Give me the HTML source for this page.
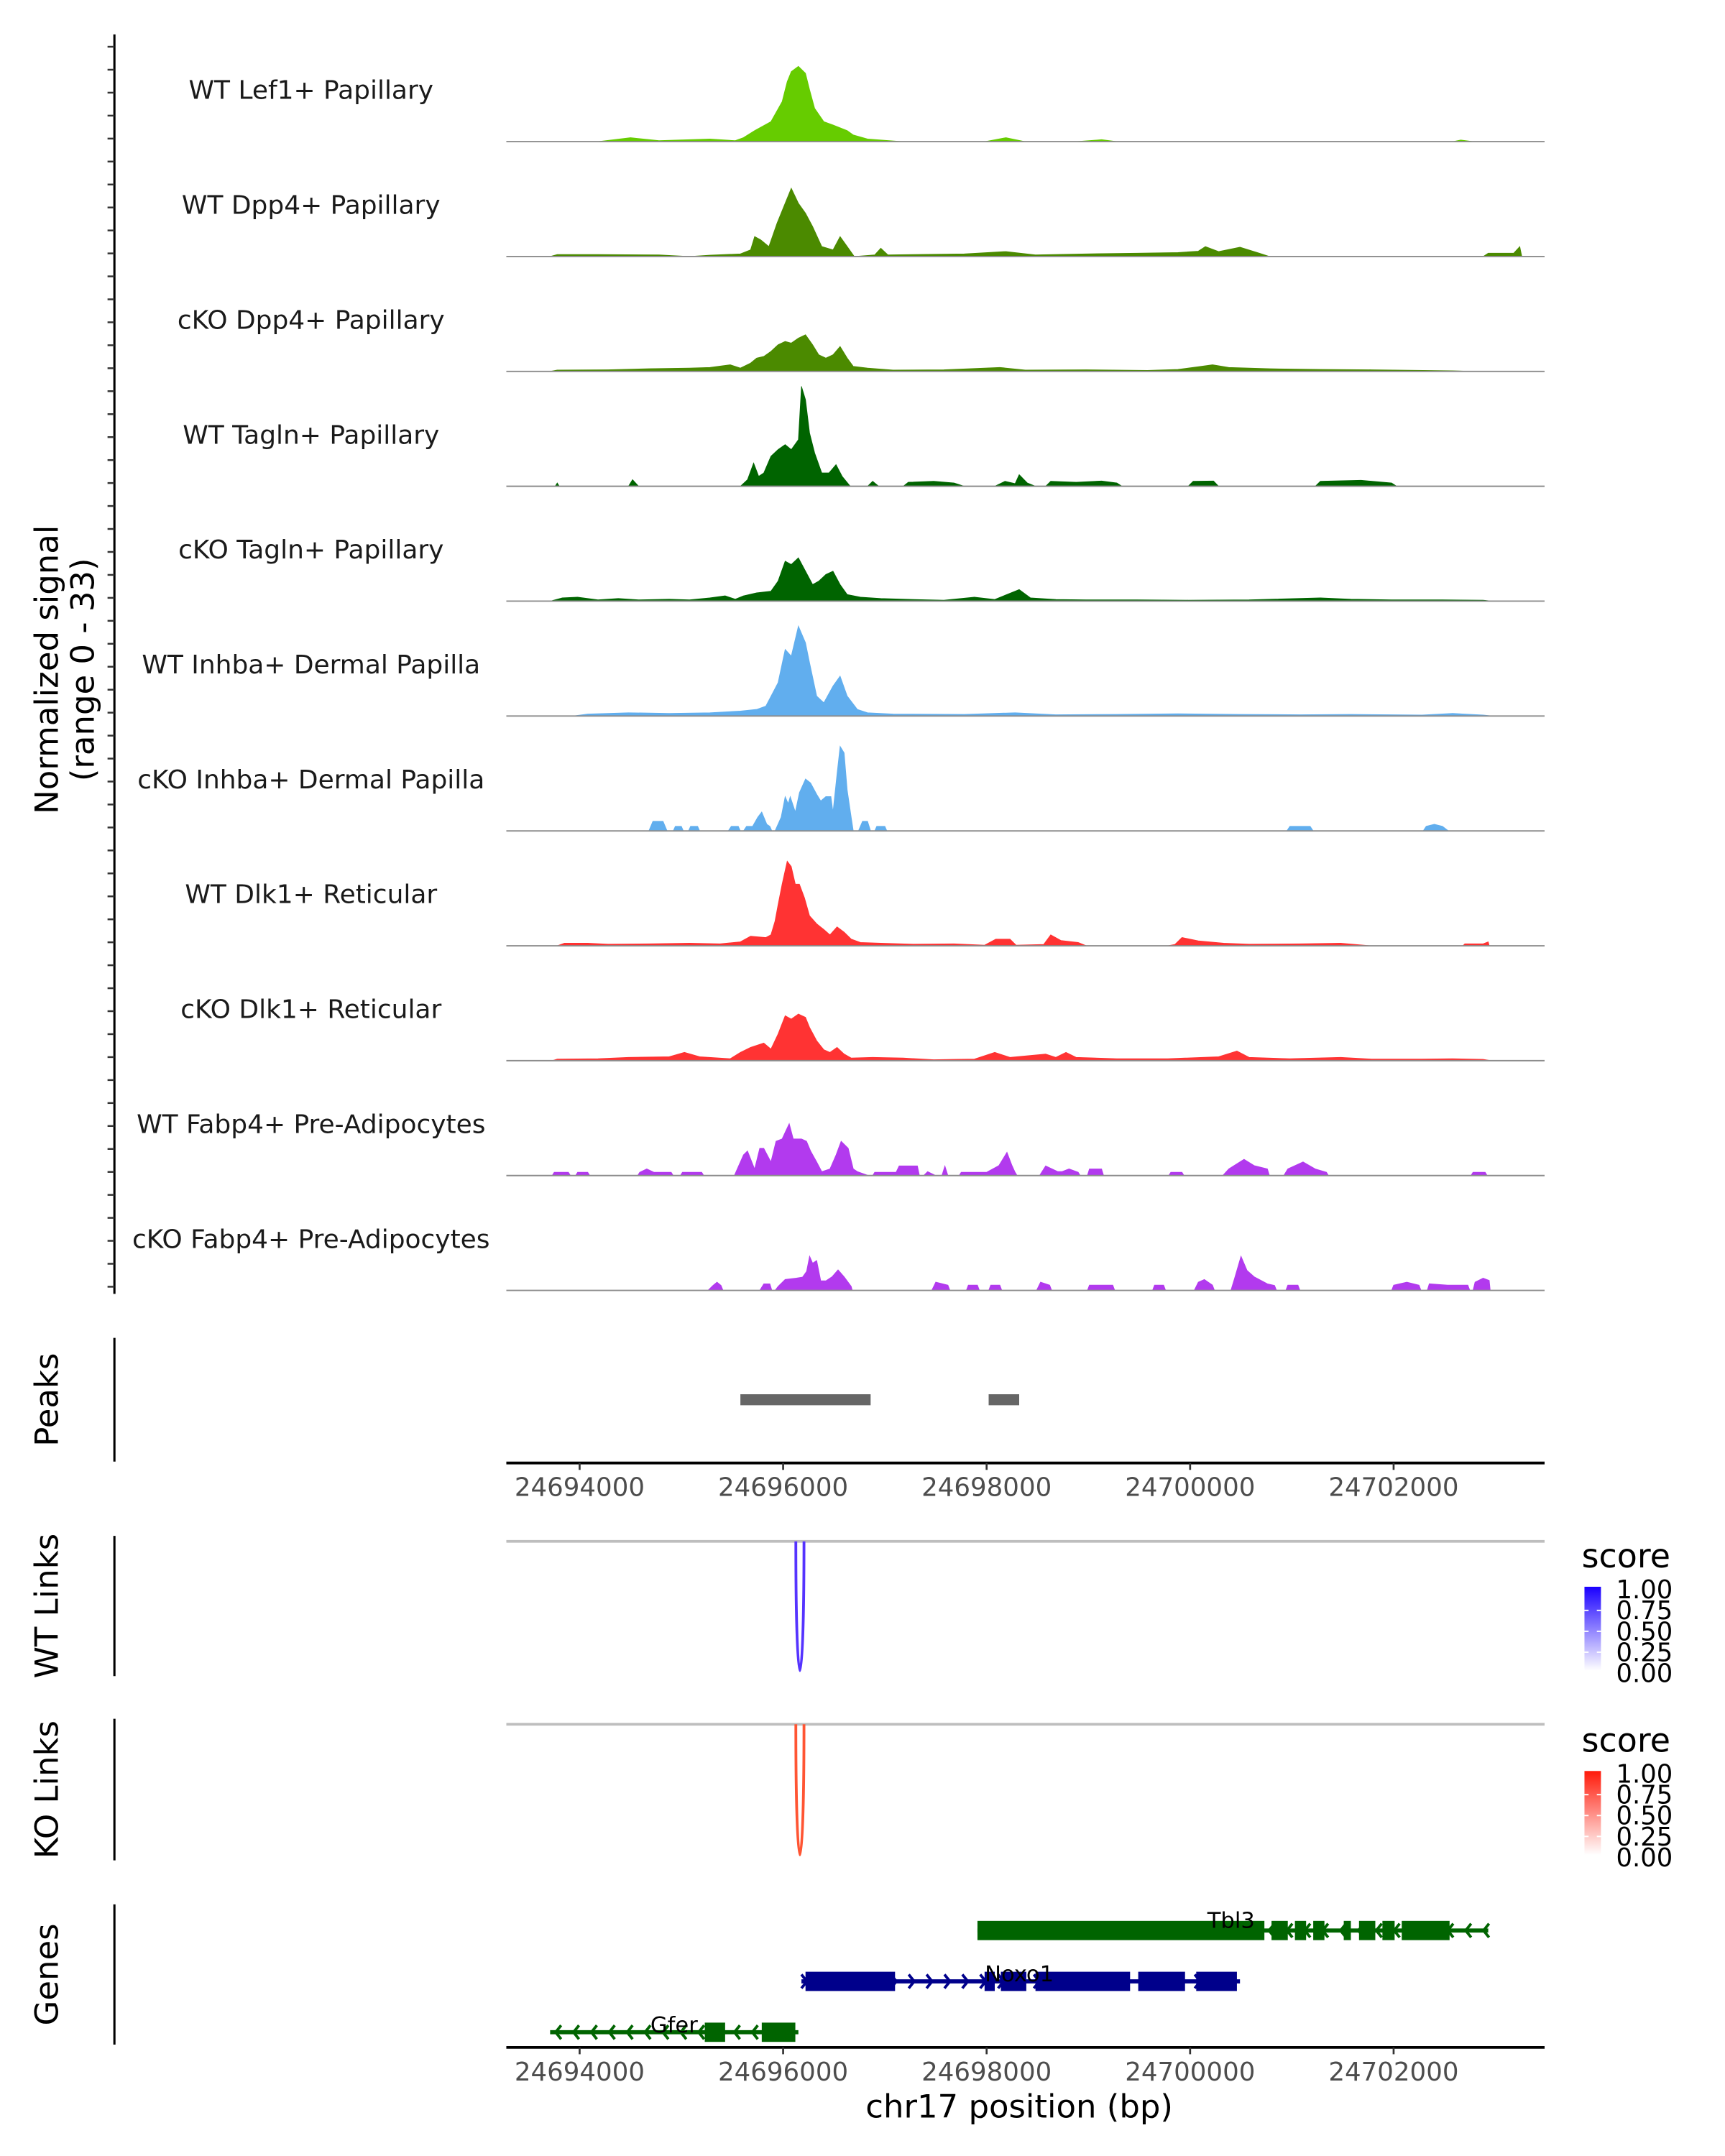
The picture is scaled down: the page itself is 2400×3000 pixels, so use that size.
<!DOCTYPE html>
<html><head><meta charset="utf-8"><style>
html,body{margin:0;padding:0;background:#fff}
svg{display:block;font-family:"DejaVu Sans","Liberation Sans",sans-serif}
</style></head><body>
<svg id="chart" xmlns="http://www.w3.org/2000/svg" width="2400" height="3000" viewBox="0 0 1254 1568">
<defs>
<linearGradient id="gblue" x1="0" y1="0" x2="0" y2="1"><stop offset="0" stop-color="#1a00ff"/><stop offset="1" stop-color="#ffffff"/></linearGradient>
<linearGradient id="gred" x1="0" y1="0" x2="0" y2="1"><stop offset="0" stop-color="#ff1a0a"/><stop offset="1" stop-color="#ffffff"/></linearGradient>
</defs>
<g id="tracks"></g>
<g id="frame"></g>
</svg>
<script>
// ---- data (positions in kb offset from POS_BASE_KB; values normalized signal 0-33) ----
const POS_BASE_KB = 24690.28;
const trackNames = ["WT Lef1+ Papillary","WT Dpp4+ Papillary","cKO Dpp4+ Papillary","WT Tagln+ Papillary","cKO Tagln+ Papillary","WT Inhba+ Dermal Papilla","cKO Inhba+ Dermal Papilla","WT Dlk1+ Reticular","cKO Dlk1+ Reticular","WT Fabp4+ Pre-Adipocytes","cKO Fabp4+ Pre-Adipocytes"];
const trackColors = ["#66cc00","#4b8a00","#4b8a00","#006400","#006400","#61aeee","#61aeee","#ff3333","#ff3333","#b23aee","#b23aee"];
const lef1WT = [[3.9,0],[4.22,1.2],[4.5,0.3],[5.0,0.8],[5.25,0.3],[5.33,1.2],[5.44,3.3],[5.60,6],[5.71,12],[5.76,18],[5.80,21],[5.87,22.6],[5.94,20.5],[5.98,15.6],[6.03,10],[6.12,6],[6.21,5],[6.35,3.3],[6.41,2],[6.55,0.8],[6.89,0],[7.7,0],[7.91,1.2],[8.1,0],[8.6,0],[8.85,0.6],[9.0,0],[12.3,0],[12.38,0.5],[12.5,0]];
const dpp4WT = [[3.43,0],[3.5,0.6],[3.9,0.6],[4.5,0.5],[4.8,0],[5.0,0.4],[5.3,0.8],[5.40,2],[5.44,6],[5.50,5],[5.58,3],[5.66,10],[5.74,16],[5.80,20.5],[5.87,16],[5.94,13],[6.01,9],[6.10,3],[6.21,2],[6.28,6],[6.35,3],[6.42,0],[6.62,0.5],[6.68,2.5],[6.75,0.5],[7.0,0.6],[7.5,0.8],[7.91,1.5],[8.2,0.5],[8.7,0.8],[9.2,1],[9.6,1.2],[9.8,1.6],[9.87,3],[10.0,1.5],[10.21,2.8],[10.4,1],[10.5,0],[12.6,0],[12.65,1],[12.9,1],[12.96,3],[12.98,0]];
const dpp4KO = [[3.43,0],[3.5,0.4],[4.0,0.5],[4.4,0.8],[4.8,1],[5.0,1.2],[5.2,2],[5.3,1],[5.4,2.5],[5.46,4],[5.53,4.5],[5.60,6],[5.67,8],[5.74,9],[5.80,8.5],[5.87,10],[5.94,11],[6.01,8],[6.07,5],[6.14,4],[6.21,5],[6.28,7.5],[6.35,4],[6.41,1.5],[6.55,1],[6.8,0.4],[7.3,0.5],[7.85,1.2],[8.1,0.4],[8.7,0.5],[9.3,0.3],[9.6,0.6],[9.8,1.4],[9.94,2],[10.1,1.2],[10.5,0.8],[11.0,0.6],[11.5,0.5],[12.3,0.2],[12.5,0]];
const taglnWT = [[3.48,0],[3.50,1],[3.52,0],[4.2,0],[4.24,2],[4.30,0],[5.30,0],[5.37,2],[5.43,7],[5.48,3],[5.53,4],[5.60,9],[5.67,11],[5.74,12.5],[5.80,11],[5.87,14],[5.90,30],[5.94,26],[5.98,16],[6.03,10],[6.10,4],[6.17,4],[6.24,6.5],[6.30,3],[6.38,0],[6.55,0],[6.60,1.5],[6.66,0],[6.90,0],[6.95,1.2],[7.2,1.5],[7.4,1],[7.5,0],[7.8,0],[7.9,1.5],[8.0,0.8],[8.04,3.5],[8.12,1],[8.2,0],[8.3,0],[8.35,1.5],[8.6,1.2],[8.85,1.6],[9.0,1],[9.05,0],[9.7,0],[9.75,1.5],[9.95,1.6],[10.0,0],[10.95,0],[11.0,1.5],[11.4,1.8],[11.7,1],[11.75,0]];
const taglnKO = [[3.43,0],[3.55,1],[3.7,1.2],[3.9,0.4],[4.1,0.8],[4.3,0.4],[4.6,0.6],[4.8,0.4],[5.0,1],[5.15,1.6],[5.25,0.6],[5.33,1.6],[5.46,2.5],[5.60,3],[5.67,6],[5.74,12],[5.80,11],[5.87,13],[5.94,9],[6.01,5],[6.07,6],[6.14,8],[6.21,9],[6.28,5],[6.35,2],[6.48,1.2],[6.68,0.8],[7.0,0.5],[7.3,0.3],[7.6,1.2],[7.8,0.5],[8.04,3.5],[8.15,1],[8.4,0.5],[8.7,0.4],[9.2,0.4],[9.7,0.3],[10.3,0.4],[11.0,1],[11.3,0.6],[11.7,0.4],[12.2,0.4],[12.6,0.3],[12.7,0]];
const inhbaWT = [[3.65,0],[3.8,0.6],[4.2,1],[4.6,0.8],[5.0,1],[5.3,1.5],[5.46,2],[5.55,3],[5.67,10],[5.74,20],[5.80,18],[5.87,27],[5.94,22],[5.98,16],[6.05,6],[6.12,4],[6.21,9],[6.28,12],[6.35,6],[6.45,2],[6.55,1],[6.8,0.6],[7.5,0.5],[8.0,1],[8.4,0.4],[9.0,0.5],[9.6,0.7],[10.2,0.5],[10.8,0.4],[11.3,0.5],[12.0,0.3],[12.3,0.8],[12.6,0.3],[12.7,0]];
const inhbaKO = [[4.40,0],[4.44,2.9],[4.54,2.9],[4.58,0],[4.64,0],[4.66,1.4],[4.72,1.4],[4.74,0],[4.79,0],[4.81,1.4],[4.88,1.4],[4.90,0],[5.18,0],[5.21,1.4],[5.28,1.4],[5.30,0],[5.33,0],[5.36,1.4],[5.42,1.4],[5.47,4.1],[5.51,5.7],[5.56,2],[5.59,1.4],[5.61,0],[5.64,0],[5.70,4.1],[5.74,10.3],[5.77,8.2],[5.79,10.3],[5.84,5.7],[5.88,11.5],[5.94,15.6],[5.99,14.4],[6.05,11],[6.09,9],[6.14,10.3],[6.19,10.3],[6.21,5.7],[6.25,17.2],[6.28,25.4],[6.32,23.4],[6.35,12.3],[6.39,4],[6.41,0],[6.46,0],[6.50,2.9],[6.55,2.9],[6.58,0],[6.62,0],[6.64,1.4],[6.72,1.4],[6.74,0],[10.67,0],[10.70,1.4],[10.9,1.4],[10.93,0],[12.01,0],[12.04,1.4],[12.12,2],[12.2,1.4],[12.26,0]];
const dlk1WT = [[3.50,0],[3.57,0.8],[3.8,0.8],[4.0,0.5],[4.4,0.6],[4.8,0.8],[5.1,0.6],[5.30,1.2],[5.40,2.9],[5.55,2.5],[5.60,3.3],[5.64,7.4],[5.67,12.3],[5.71,18.5],[5.76,25.4],[5.80,23.8],[5.84,18.5],[5.88,18.5],[5.93,14.4],[5.98,9],[6.05,6.6],[6.12,4.9],[6.18,3.3],[6.25,5.7],[6.32,4.1],[6.39,2],[6.48,1],[6.68,0.8],[7.0,0.5],[7.4,0.6],[7.7,0.2],[7.81,2],[7.95,2],[8.01,0.2],[8.28,0.4],[8.35,3.3],[8.45,1.6],[8.62,1],[8.7,0],[9.5,0],[9.57,0.4],[9.64,2.5],[9.8,1.5],[10.05,0.8],[10.3,0.5],[10.8,0.6],[11.2,0.8],[11.5,0],[12.4,0],[12.42,0.6],[12.6,0.6],[12.65,1.2],[12.66,0]];
const dlk1KO = [[3.45,0],[3.5,0.5],[3.9,0.6],[4.2,1],[4.6,1.2],[4.75,2.5],[4.9,1.2],[5.2,0.6],[5.30,2.5],[5.40,4],[5.53,5.3],[5.60,3.5],[5.67,8],[5.74,13.5],[5.80,12.5],[5.87,14],[5.94,13],[5.98,10],[6.05,6],[6.12,3.3],[6.18,2.5],[6.25,4],[6.32,2],[6.39,0.8],[6.6,1],[6.9,0.8],[7.2,0.3],[7.4,0.4],[7.6,0.5],[7.8,2.5],[7.95,1],[8.3,2],[8.4,1],[8.5,2.5],[8.6,1],[9.0,0.6],[9.5,0.6],[10.0,1.2],[10.18,2.9],[10.3,1],[10.7,0.6],[11.2,1],[11.5,0.5],[12.0,0.5],[12.3,0.6],[12.6,0.4],[12.68,0]];
const fabp4WT = [[3.45,0],[3.47,1],[3.61,1],[3.63,0],[3.68,0],[3.70,1],[3.80,1],[3.82,0],[4.29,0],[4.31,1],[4.38,2],[4.45,1],[4.62,1],[4.64,0],[4.71,0],[4.73,1],[4.92,1],[4.94,0],[5.24,0],[5.33,6.2],[5.37,7.4],[5.44,2],[5.49,8.2],[5.53,8.2],[5.60,4.1],[5.65,10.3],[5.71,11],[5.74,13],[5.78,15.6],[5.82,11],[5.90,11],[5.95,10.3],[5.99,7.4],[6.05,4.1],[6.10,1.2],[6.18,2],[6.24,6.2],[6.29,10.3],[6.36,8.2],[6.41,2],[6.45,1.2],[6.56,0],[6.60,0],[6.62,1],[6.83,1],[6.86,2.9],[7.04,2.9],[7.06,0],[7.1,0],[7.14,1.2],[7.22,0],[7.28,0],[7.31,2.9],[7.34,0],[7.45,0],[7.47,1],[7.72,1],[7.78,2],[7.84,3],[7.92,7],[7.97,3],[8.00,1],[8.02,0],[8.24,0],[8.30,2.9],[8.42,1.2],[8.46,1.2],[8.53,2],[8.62,1],[8.64,0],[8.71,0],[8.73,2],[8.85,2],[8.87,0],[9.51,0],[9.53,1],[9.64,1],[9.66,0],[10.04,0],[10.10,2],[10.25,4.9],[10.35,3],[10.48,2],[10.50,0],[10.64,0],[10.68,2],[10.83,4.1],[10.95,2],[11.06,1],[11.08,0],[12.48,0],[12.50,1],[12.62,1],[12.64,0]];
const fabp4KO = [[4.98,0],[5.03,1.5],[5.07,2.5],[5.11,1.5],[5.13,0],[5.49,0],[5.53,2],[5.59,2],[5.61,0],[5.64,0],[5.67,1.2],[5.74,3.3],[5.85,3.7],[5.91,4],[5.95,5.7],[5.98,10.3],[6.01,8.2],[6.05,9],[6.09,2.9],[6.14,2.9],[6.20,4.1],[6.26,6.2],[6.32,4.1],[6.39,1.2],[6.40,0],[7.18,0],[7.22,2.5],[7.34,1.6],[7.36,0],[7.52,0],[7.54,1.6],[7.63,1.6],[7.65,0],[7.74,0],[7.76,1.6],[7.85,1.6],[7.87,0],[8.21,0],[8.25,2.5],[8.34,1.6],[8.36,0],[8.71,0],[8.73,1.6],[8.96,1.6],[8.98,0],[9.35,0],[9.37,1.6],[9.46,1.6],[9.48,0],[9.76,0],[9.80,2.5],[9.86,3.3],[9.94,1.6],[9.96,0],[10.12,0],[10.16,4],[10.22,10.3],[10.28,6],[10.35,4.1],[10.48,2],[10.55,1.5],[10.57,0],[10.66,0],[10.68,1.6],[10.78,1.6],[10.80,0],[11.70,0],[11.72,1.6],[11.85,2.5],[11.97,1.6],[11.99,0],[12.05,0],[12.07,2],[12.25,1.6],[12.45,1.6],[12.47,0],[12.50,0],[12.52,2.5],[12.60,3.7],[12.66,3],[12.67,0]];
const trackSeries = [lef1WT,dpp4WT,dpp4KO,taglnWT,taglnKO,inhbaWT,inhbaKO,dlk1WT,dlk1KO,fabp4WT,fabp4KO];
const yMax = 33;
const xTicks = [24694000,24696000,24698000,24700000,24702000];
const peakRegions = [[5.30,6.58],[7.74,8.04]];
const wtLink = [5.845,5.925];
const koLink = [5.845,5.925];
const scoreTicks = ["1.00","0.75","0.50","0.25","0.00"];
const tbl3Span = [7.63,12.65];
const tbl3Exons = [[7.63,10.45],[10.52,10.68],[10.75,10.86],[10.93,11.04],[11.23,11.30],[11.38,11.54],[11.61,11.73],[11.80,12.27]];
const noxo1Span = [5.90,10.21];
const noxo1Exons = [[5.94,6.82],[7.70,7.80],[7.86,8.11],[8.20,9.13],[9.21,9.67],[9.78,10.18]];
const gferSpan = [3.43,5.87];
const gferExons = [[4.95,5.15],[5.51,5.84]];

// ---- scales ----
const NS = "http://www.w3.org/2000/svg";
const X0 = 368, X1 = 1123;
function xScale(bp){ return 421.3 + (bp - 24694000) * 0.07399; }
function xKb(k){ return xScale((POS_BASE_KB + k) * 1000); }
const trackTop0 = 103, trackStep = 83.55, trackH = 80;
function yScale(v, base){ return base - v / yMax * trackH; }
function mk(tag, attrs, parent){ const e = document.createElementNS(NS, tag); for (const k in attrs) e.setAttribute(k, attrs[k]); parent.appendChild(e); return e; }
const T = document.getElementById('tracks');
const F = document.getElementById('frame');

trackSeries.forEach((pts, i) => {
  const base = trackTop0 + i * trackStep;
  const g = mk('g', {}, T);
  
  
  let d = 'M' + xKb(pts[0][0]).toFixed(2) + ',' + base;
  pts.forEach(p => { d += 'L' + xKb(p[0]).toFixed(2) + ',' + yScale(p[1], base).toFixed(2); });
  d += 'L' + xKb(pts[pts.length-1][0]).toFixed(2) + ',' + base + 'Z';
  const area = mk('path', {d: d, fill: trackColors[i], stroke: trackColors[i], 'stroke-width': 0.4}, g);
  
  
  const bl = mk('line', {x1: X0, x2: X1, y1: base, y2: base, stroke: '#8c8c8c', 'stroke-width': 1}, g);
  
  
  const lab = mk('text', {x: 226, y: base - 31, 'text-anchor': 'middle', 'font-size': 18.8, fill: '#1a1a1a'}, g);
  lab.textContent = trackNames[i];
  
  
});

mk('line', {x1: 83, x2: 83, y1: 25, y2: 941, stroke: '#000', 'stroke-width': 1.6}, F);
for (let y = 34; y <= 941; y += 16.7) mk('line', {x1: 78, x2: 83, y1: y, y2: y, stroke: '#333', 'stroke-width': 1.3}, F);
const yt = mk('text', {transform: 'translate(42,487) rotate(-90)', 'text-anchor': 'middle', 'font-size': 23.5, fill: '#000'}, F);
yt.textContent = 'Normalized signal';


const yt2 = mk('text', {transform: 'translate(68,487) rotate(-90)', 'text-anchor': 'middle', 'font-size': 23.5, fill: '#000'}, F);
yt2.textContent = '(range 0 - 33)';



function panelLabel(txt, y0, y1, name){
  mk('line', {x1: 83, x2: 83, y1: y0, y2: y1, stroke: '#000', 'stroke-width': 1.6}, F);
  const t = mk('text', {transform: 'translate(42,' + ((y0+y1)/2) + ') rotate(-90)', 'text-anchor': 'middle', 'font-size': 23.5, fill: '#000'}, F);
  t.textContent = txt;
  
  
}
panelLabel('Peaks', 973, 1063, 'peaks-panel-label');
panelLabel('WT Links', 1117, 1219, 'wt-links-panel-label');
panelLabel('KO Links', 1250, 1353, 'ko-links-panel-label');
panelLabel('Genes', 1385, 1487, 'genes-panel-label');

peakRegions.forEach(r => {
  const p = mk('rect', {x: xKb(r[0]), y: 1014, width: xKb(r[1]) - xKb(r[0]), height: 8, fill: '#666'}, F);
  
  
});

function xAxis(y, name){
  const g = mk('g', {}, F);
  
  
  mk('line', {x1: X0, x2: X1, y1: y, y2: y, stroke: '#000', 'stroke-width': 2}, g);
  xTicks.forEach(t => {
    const x = xScale(t);
    mk('line', {x1: x, x2: x, y1: y, y2: y + 5, stroke: '#333', 'stroke-width': 1.4}, g);
    const lt = mk('text', {x: x, y: y + 24, 'text-anchor': 'middle', 'font-size': 18.6, fill: '#4d4d4d'}, g);
    lt.textContent = String(t);
    
    
  });
}
xAxis(1064, 'peaks-x-axis');
xAxis(1489, 'genes-x-axis');
const xl = mk('text', {x: 741, y: 1540, 'text-anchor': 'middle', 'font-size': 23.5, fill: '#000'}, F);
xl.textContent = 'chr17 position (bp)';



function linkPanel(link, yTop, depth, color, name){
  mk('line', {x1: X0, x2: X1, y1: yTop, y2: yTop, stroke: '#bebebe', 'stroke-width': 2}, F);
  const a = xKb(link[0]), b = xKb(link[1]);
  const cy = yTop + depth / 0.75;
  const arc = mk('path', {d: 'M' + a + ',' + yTop + ' C' + a + ',' + cy + ' ' + b + ',' + cy + ' ' + b + ',' + yTop, fill: 'none', stroke: color, 'stroke-width': 2}, F);
  
  
}
linkPanel(wtLink, 1121, 94, '#5533ff', 'wt-link-arc');
linkPanel(koLink, 1254, 95, '#ff5533', 'ko-link-arc');

function legend(y, grad, name){
  const g = mk('g', {}, F);
  
  
  const tt = mk('text', {x: 1150, y: y, 'font-size': 24, fill: '#000'}, g);
  tt.textContent = 'score';
  mk('rect', {x: 1152, y: y + 14, width: 12, height: 61, fill: 'url(#' + grad + ')'}, g);
  scoreTicks.forEach((s, i) => {
    const ty = y + 16 + i * 15.2;
    if (i > 0 && i < 4) { mk('line', {x1: 1152, x2: 1155, y1: ty, y2: ty, stroke: '#fff'}, g); mk('line', {x1: 1161, x2: 1164, y1: ty, y2: ty, stroke: '#fff'}, g); }
    const lt = mk('text', {x: 1175, y: ty + 6.5, 'font-size': 18.5, fill: '#000'}, g);
    lt.textContent = s;
  });
}
legend(1140, 'gblue', 'wt-score-legend');
legend(1274, 'gred', 'ko-score-legend');

function gene(name, span, exons, y, color, dir, lx, ly){
  const g = mk('g', {}, F);
  
  
  mk('line', {x1: xKb(span[0]), x2: xKb(span[1]), y1: y, y2: y, stroke: color, 'stroke-width': 3}, g);
  for (let x = xKb(span[0]) + 4; x < xKb(span[1]); x += 13) {
    const d = dir < 0 ? 'M' + (x + 4) + ',' + (y - 5) + ' L' + x + ',' + y + ' L' + (x + 4) + ',' + (y + 5) : 'M' + (x - 4) + ',' + (y - 5) + ' L' + x + ',' + y + ' L' + (x - 4) + ',' + (y + 5);
    mk('path', {d: d, fill: 'none', stroke: color, 'stroke-width': 2}, g);
  }
  exons.forEach(e => {
    const r = mk('rect', {x: xKb(e[0]), y: y - 7, width: xKb(e[1]) - xKb(e[0]), height: 14, fill: color}, g);
    
    
  });
  const t = mk('text', {x: lx, y: ly, 'text-anchor': 'middle', 'font-size': 16, fill: '#000'}, g);
  t.textContent = name;
}
gene('Tbl3', tbl3Span, tbl3Exons, 1404, '#006400', -1, 895, 1402);
gene('Noxo1', noxo1Span, noxo1Exons, 1441, '#00008b', 1, 741, 1441);
gene('Gfer', gferSpan, gferExons, 1478, '#006400', -1, 490, 1478);
</script>
</body></html>
